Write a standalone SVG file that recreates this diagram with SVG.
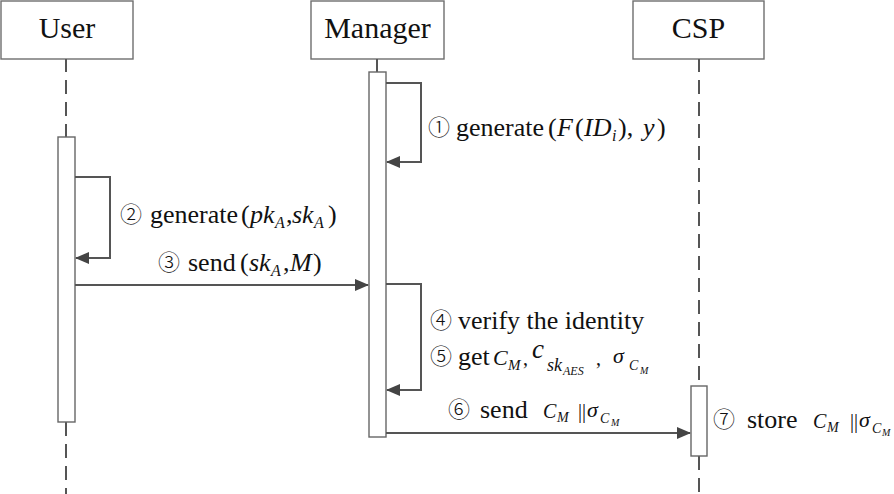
<svg xmlns="http://www.w3.org/2000/svg" width="894" height="494" viewBox="0 0 894 494">
<style>
.box{fill:#fff;stroke:#6e6e6e;stroke-width:1.4}
.act{fill:#fff;stroke:#666;stroke-width:1.4}
.life{stroke:#555;stroke-width:2;stroke-dasharray:14 8;fill:none}
.solid{stroke:#555;stroke-width:2;fill:none}
.msg{stroke:#555;stroke-width:2;fill:none;marker-end:url(#ah)}
.title{font-family:"Liberation Serif",serif;font-size:30px;fill:#111;text-anchor:middle}
.lbl{font-family:"Liberation Serif",serif;font-size:26px;fill:#111}
.rm{font-family:"Liberation Serif",serif;font-style:normal}
.circ{font-family:"Noto Sans CJK SC","DejaVu Sans",sans-serif;font-size:22px;font-weight:300;fill:#111}
.it{font-family:"Liberation Serif",serif;font-style:italic}
</style>
<defs>
<marker id="ah" markerWidth="14" markerHeight="12" refX="13" refY="6" orient="auto" markerUnits="userSpaceOnUse"><path d="M0,0 L14,6 L0,12 Z" fill="#444"/></marker>
</defs>

<g id="user">
<rect class="box" x="1" y="1" width="132" height="58"/>
<text class="title" x="67" y="38">User</text>
<line class="solid" x1="66" y1="59" x2="66" y2="72"/>
<line class="life" x1="66" y1="80" x2="66" y2="137"/>
<line class="life" x1="66" y1="422" x2="66" y2="494"/>
<rect class="act" x="58" y="137" width="17" height="285"/>
</g>

<g id="manager">
<rect class="box" x="311" y="1" width="133" height="58"/>
<text class="title" x="377.5" y="38">Manager</text>
<line class="solid" x1="377" y1="59" x2="377" y2="72"/>
<rect class="act" x="369" y="72" width="17" height="365"/>
</g>

<g id="csp">
<rect class="box" x="633" y="1" width="131" height="58"/>
<text class="title" x="698.5" y="38">CSP</text>
<line class="solid" x1="699" y1="59" x2="699" y2="72"/>
<line class="life" x1="699" y1="80" x2="699" y2="386"/>
<line class="life" x1="699" y1="456" x2="699" y2="494"/>
<rect class="act" x="691" y="386" width="16" height="70"/>
</g>

<g id="connectors">
<path class="msg" d="M386,83 H421 V162 H387"/>
<path class="msg" d="M75,177 H110 V258 H76"/>
<path class="msg" d="M75,285 H368"/>
<path class="msg" d="M386,284 H421 V390 H387"/>
<path class="msg" d="M386,433 H690"/>
</g>

<g id="labels">
<text class="circ" x="428" y="135">①</text>
<text class="lbl" y="136"><tspan class="rm" x="456">generate</tspan><tspan class="rm" x="548">(</tspan><tspan class="it" x="557">F</tspan><tspan class="rm" x="575">(</tspan><tspan class="it" x="584">ID</tspan><tspan class="it" x="612" y="141" font-size="16">i</tspan><tspan class="rm" x="618" y="136">),</tspan><tspan class="it" x="643">y</tspan><tspan class="rm" x="657">)</tspan></text>

<text class="circ" x="120" y="222">②</text>
<text class="lbl" y="223"><tspan class="rm" x="150">generate</tspan><tspan class="rm" x="241">(</tspan><tspan class="it" x="250">pk</tspan><tspan class="it" x="275" y="228" font-size="16">A</tspan><tspan class="rm" x="286" y="223">,</tspan><tspan class="it" x="292">sk</tspan><tspan class="it" x="314" y="228" font-size="16">A</tspan><tspan class="rm" x="328" y="223">)</tspan></text>

<text class="circ" x="158" y="270">③</text>
<text class="lbl" y="271"><tspan class="rm" x="188">send</tspan><tspan class="rm" x="240">(</tspan><tspan class="it" x="249">sk</tspan><tspan class="it" x="271" y="276" font-size="16">A</tspan><tspan class="rm" x="283" y="271">,</tspan><tspan class="it" x="290">M</tspan><tspan class="rm" x="313">)</tspan></text>

<text class="circ" x="430" y="328">④</text>
<text class="lbl" x="458" y="329">verify the identity</text>

<text class="circ" x="430" y="364">⑤</text>
<text class="lbl" y="365"><tspan class="rm" x="458">get</tspan><tspan class="it" x="493" font-size="22">C</tspan><tspan class="it" x="508" y="370" font-size="15">M</tspan><tspan class="rm" x="523" y="365" font-size="20">,</tspan><tspan class="it" x="532" y="358" font-size="27">c</tspan><tspan class="it" x="547" y="371" font-size="18">sk</tspan><tspan class="it" x="563" y="375" font-size="12">AES</tspan><tspan class="rm" x="596" y="365" font-size="20">,</tspan><tspan class="it" x="613" y="363" font-size="22">σ</tspan><tspan class="it" x="629" y="370" font-size="14">C</tspan><tspan class="it" x="640" y="374" font-size="10">M</tspan></text>

<text class="circ" x="448" y="417">⑥</text>
<text class="lbl" y="418"><tspan class="rm" x="480">send</tspan><tspan class="it" x="543" font-size="20">C</tspan><tspan class="it" x="557" y="422" font-size="14">M</tspan><tspan class="rm" x="578" y="418" font-size="20">||</tspan><tspan class="it" x="587" y="417" font-size="22">σ</tspan><tspan class="it" x="600" y="423" font-size="14">C</tspan><tspan class="it" x="611" y="426" font-size="10">M</tspan></text>

<text class="circ" x="713" y="427">⑦</text>
<text class="lbl" y="428"><tspan class="rm" x="747">store</tspan><tspan class="it" x="813" font-size="20">C</tspan><tspan class="it" x="827" y="432" font-size="14">M</tspan><tspan class="rm" x="850" y="428" font-size="20">||</tspan><tspan class="it" x="859" y="427" font-size="22">σ</tspan><tspan class="it" x="872" y="433" font-size="14">C</tspan><tspan class="it" x="882" y="436" font-size="10">M</tspan></text>
</g>
</svg>
